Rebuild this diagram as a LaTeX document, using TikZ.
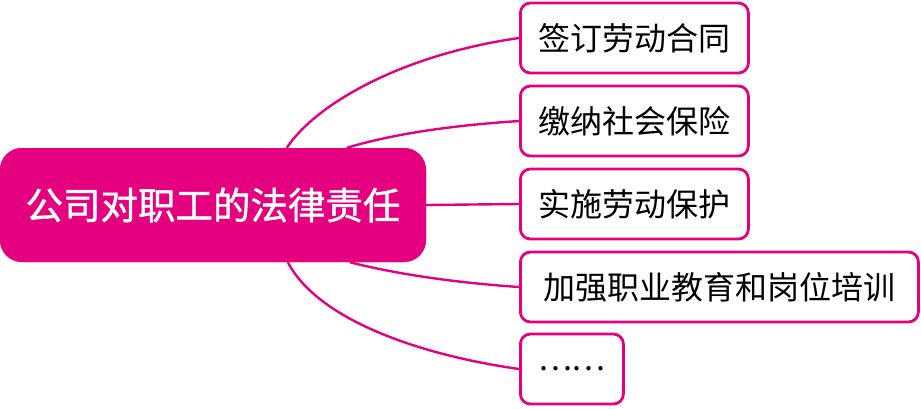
\documentclass[tikz,border=0pt]{standalone}
\usepackage{fontspec}
\newfontfamily\cjk{Noto Sans CJK SC}
\newfontfamily\cjkb[FakeBold=1.2]{Noto Sans CJK SC}
\definecolor{mag}{RGB}{228,0,127}
\tikzset{
  root/.style={fill=mag, draw=none, rounded corners=22pt, minimum width=426pt, minimum height=114pt, text=white, font=\cjkb\fontsize{37.5}{42}\selectfont, inner sep=0pt},
  leaf/.style={draw=mag, line width=2.8pt, fill=white, rounded corners=10pt, minimum height=70pt, font=\cjk\fontsize{32}{36}\selectfont, inner sep=0pt, anchor=west},
  link/.style={draw=mag, line width=2.4pt}
}
\begin{document}
\begin{tikzpicture}[x=1pt,y=-1pt]
\useasboundingbox (0,0) rectangle (921,408);
\node[root] (c) at (213,205) {公司对职工的法律责任};
\node[leaf, minimum width=228pt] (b1) at (519,38) {签订劳动合同};
\node[leaf, minimum width=228pt] (b2) at (519,121) {缴纳社会保险};
\node[leaf, minimum width=228pt] (b3) at (519,204) {实施劳动保护};
\node[leaf, minimum width=398pt] (b4) at (519,287) {加强职业教育和岗位培训};
\node[leaf, minimum width=103pt] (b5) at (519,369) {……};
\coordinate (s1) at ([xshift=287pt]c.north west);
\coordinate (s2) at ([xshift=347pt]c.north west);
\coordinate (s4) at ([xshift=350pt]c.south west);
\coordinate (s5) at ([xshift=288pt]c.south west);
\draw[link] (s1) .. controls (315,105) and (400,55) .. (b1.west);
\draw[link] (s2) .. controls (400,132) and (460,125) .. (b2.west);
\draw[link] (c.east) -- (b3.west);
\draw[link] (s4) .. controls (400,275) and (460,283) .. (b4.west);
\draw[link] (s5) .. controls (318,320) and (420,355) .. (b5.west);
\node[root] at (c) {公司对职工的法律责任};
\end{tikzpicture}
\end{document}
